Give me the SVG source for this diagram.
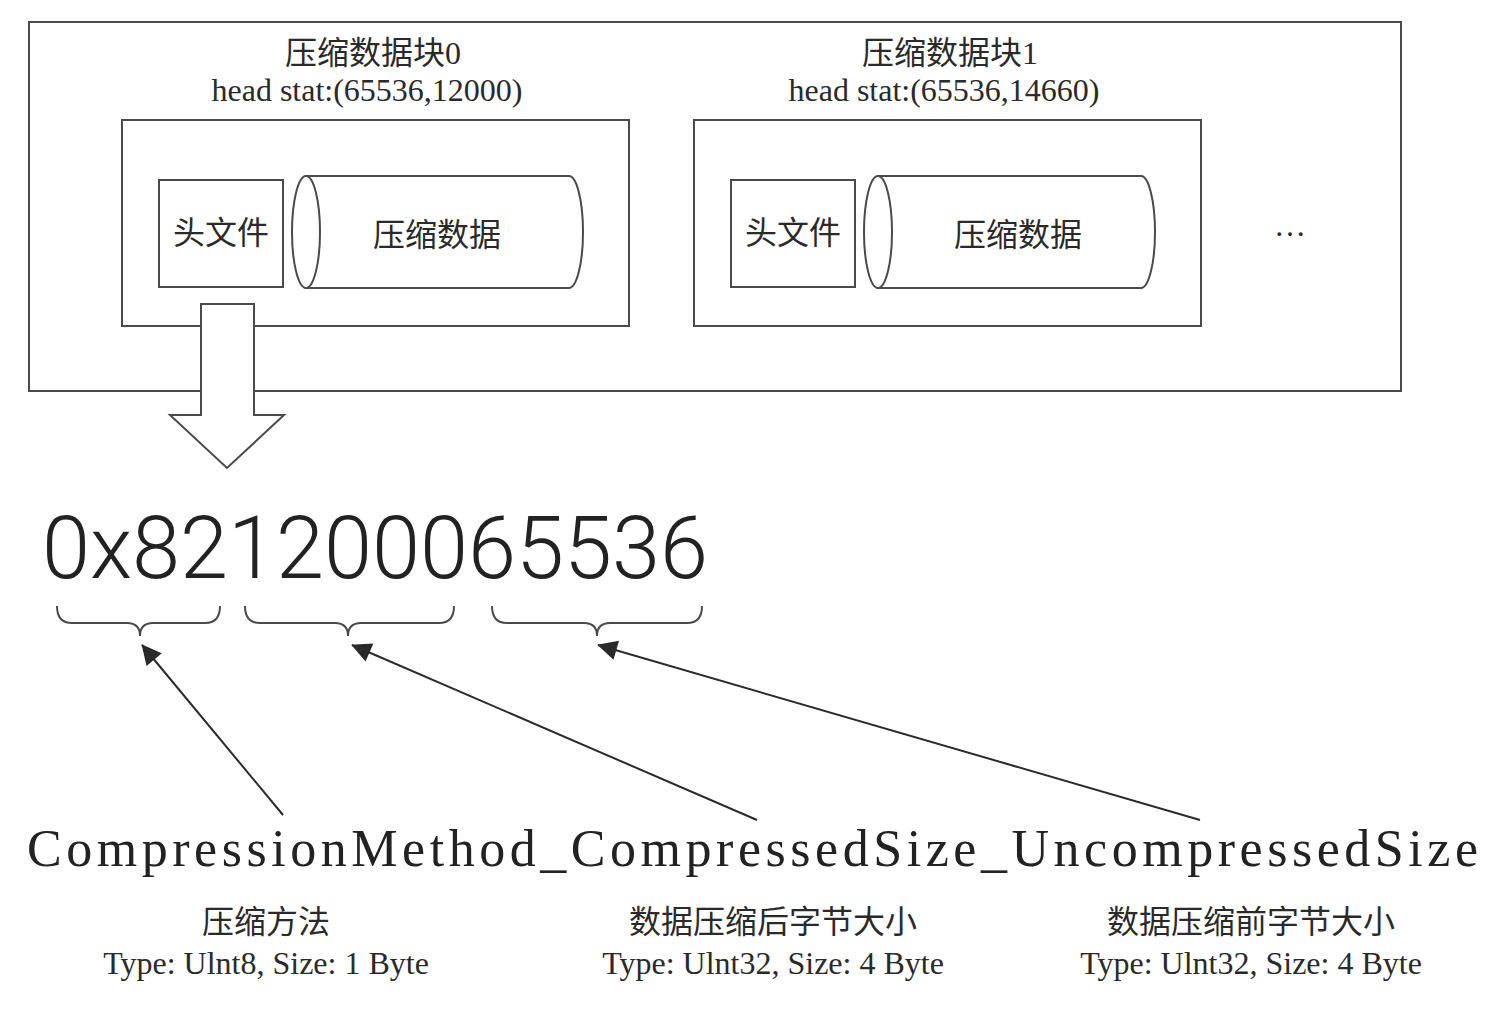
<svg xmlns="http://www.w3.org/2000/svg" width="1494" height="1013" viewBox="0 0 1494 1013">
<defs>
<style>
.box{fill:none;stroke:#4a4a4a;stroke-width:2}
.wbox{fill:#fff;stroke:#4a4a4a;stroke-width:2}
.c{font-family:"Liberation Serif","Noto Sans CJK SC",serif;fill:#2a2a2a;font-size:32px;text-anchor:middle}
.br{fill:none;stroke:#4a4a4a;stroke-width:2}
.con{stroke:#2a2a2a;stroke-width:2;fill:none;marker-end:url(#ah)}
</style>
<marker id="ah" viewBox="0 0 10 10" refX="9" refY="5" markerWidth="9" markerHeight="9" markerUnits="userSpaceOnUse" orient="auto" overflow="visible">
<path d="M0,0 L10,5 L0,10 Z" fill="#2a2a2a" transform="scale(2.2) translate(-5.5,-2.7)"/>
</marker>
</defs>
<rect width="1494" height="1013" fill="#fff"/>

<g id="outer">
<rect class="box" x="29" y="22" width="1372" height="369"/>
</g>

<g id="block0">
<text class="c" x="373" y="64">压缩数据块0</text>
<text class="c" x="367" y="101">head stat:(65536,12000)</text>
<rect class="box" x="122" y="120" width="507" height="206"/>
</g>
<g id="head0">
<rect class="box" x="159" y="180" width="124" height="107"/>
<text class="c" x="221" y="244">头文件</text>
</g>
<g id="data0">
<path class="wbox" d="M306,176 L569,176 A14,56 0 0 1 569,288 L306,288 Z"/>
<ellipse class="wbox" cx="306" cy="232" rx="14" ry="56"/>
<text class="c" x="437" y="246">压缩数据</text>
</g>

<g id="block1">
<text class="c" x="950" y="64">压缩数据块1</text>
<text class="c" x="944" y="101">head stat:(65536,14660)</text>
<rect class="box" x="694" y="120" width="507" height="206"/>
</g>
<g id="head1">
<rect class="box" x="731" y="180" width="124" height="107"/>
<text class="c" x="793" y="244">头文件</text>
</g>
<g id="data1">
<path class="wbox" d="M878,176 L1141,176 A14,56 0 0 1 1141,288 L878,288 Z"/>
<ellipse class="wbox" cx="878" cy="232" rx="14" ry="56"/>
<text class="c" x="1018" y="246">压缩数据</text>
</g>
<g id="more">
<text class="c" x="1290" y="236" font-family="Noto Sans CJK SC">…</text>
</g>

<g id="bigarrow">
<path d="M201,304 L254,304 L254,415 L284,415 L227,468 L170,415 L201,415 Z" fill="#fff" stroke="#4a4a4a" stroke-width="2" stroke-linejoin="miter"/>
</g>

<g id="hex">
<text x="42" y="578" font-family="Roboto,'Liberation Sans',sans-serif" font-weight="300" font-size="88" fill="#222" textLength="666" lengthAdjust="spacingAndGlyphs">0x821200065536</text>
</g>

<g id="braces">
<path class="br" d="M57,606 Q57,623 72,623 L127,623 Q140,623 140,636 Q140,623 153,623 L205,623 Q220,623 220,606"/>
<path class="br" d="M245,606 Q245,623 260,623 L335,623 Q348,623 348,636 Q348,623 361,623 L439,623 Q454,623 454,606"/>
<path class="br" d="M492,606 Q492,623 507,623 L584,623 Q597,623 597,636 Q597,623 610,623 L687,623 Q702,623 702,606"/>
</g>

<g id="connectors">
<line class="con" x1="283" y1="815" x2="142" y2="645"/>
<line class="con" x1="757" y1="820" x2="352" y2="645"/>
<line class="con" x1="1200" y1="820" x2="598" y2="645"/>
</g>

<g id="fieldname">
<text x="27" y="866" font-family="'Liberation Serif',serif" font-size="52" fill="#222" textLength="1451" lengthAdjust="spacing">CompressionMethod_CompressedSize_UncompressedSize</text>
</g>

<g id="field0">
<text class="c" x="266" y="933">压缩方法</text>
<text class="c" x="266" y="974">Type: Ulnt8, Size: 1 Byte</text>
</g>
<g id="field1">
<text class="c" x="773" y="933">数据压缩后字节大小</text>
<text class="c" x="773" y="974">Type: Ulnt32, Size: 4 Byte</text>
</g>
<g id="field2">
<text class="c" x="1251" y="933">数据压缩前字节大小</text>
<text class="c" x="1251" y="974">Type: Ulnt32, Size: 4 Byte</text>
</g>
</svg>
